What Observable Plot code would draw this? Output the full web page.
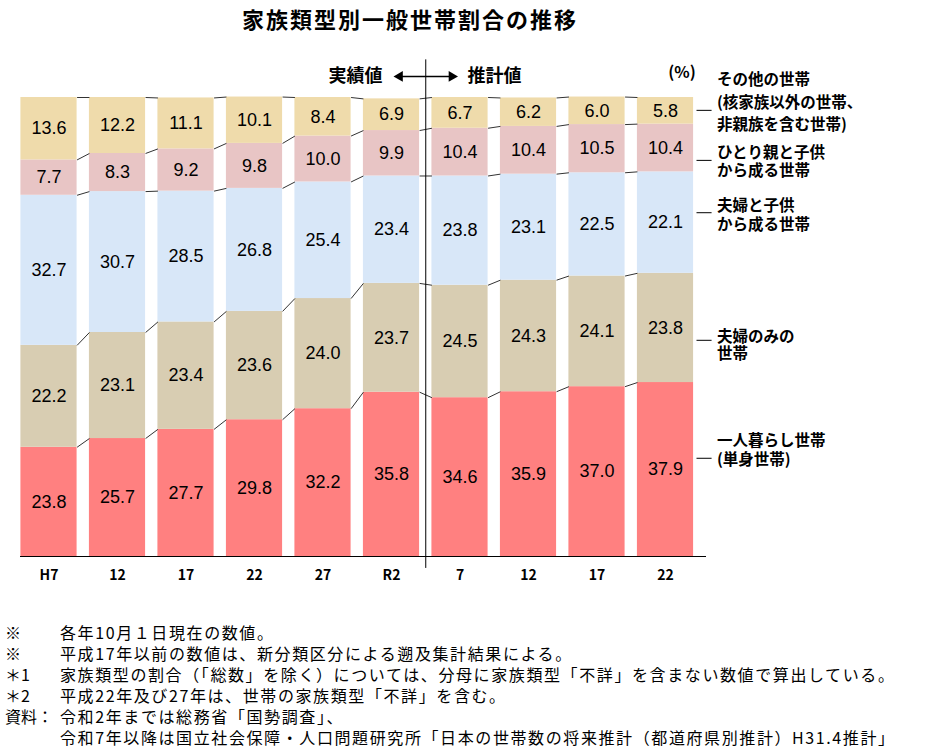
<!DOCTYPE html>
<html lang="ja">
<head>
<meta charset="utf-8">
<script src="https://cdn.jsdelivr.net/npm/d3@7"></script>
<script src="https://cdn.jsdelivr.net/npm/@observablehq/plot@0.6"></script>
<style>
  html, body { margin: 0; padding: 0; background: #fff; }
  body { width: 928px; height: 750px; position: relative; overflow: hidden;
         font-family: "Noto Sans CJK JP", "Noto Sans", sans-serif; color: #000; }
  #title { position: absolute; top: 4px; left: 0; width: 820px; text-align: center;
           font-size: 22px; font-weight: bold; letter-spacing: 2px; line-height: 28px; }
  #chart { position: absolute; top: 40px; left: 0; }
  #notes { position: absolute; top: 622px; left: 5px; font-size: 16px; line-height: 21px; letter-spacing: 1.6px; }
  #notes .row { display: flex; white-space: nowrap; }
  #notes .mk { width: 55px; flex: none; letter-spacing: 0; }
</style>
</head>
<body>
<div id="title">家族類型別一般世帯割合の推移</div>
<div id="chart"></div>
<div id="notes"></div>
<script>
// ---- data ----
const periods = ["H7", "12", "17", "22", "27", "R2", "7", "12", "17", "22"];
const single       = [23.8, 25.7, 27.7, 29.8, 32.2, 35.8, 34.6, 35.9, 37.0, 37.9];
const coupleOnly   = [22.2, 23.1, 23.4, 23.6, 24.0, 23.7, 24.5, 24.3, 24.1, 23.8];
const coupleKids   = [32.7, 30.7, 28.5, 26.8, 25.4, 23.4, 23.8, 23.1, 22.5, 22.1];
const singleParent = [7.7, 8.3, 9.2, 9.8, 10.0, 9.9, 10.4, 10.4, 10.5, 10.4];
const other        = [13.6, 12.2, 11.1, 10.1, 8.4, 6.9, 6.7, 6.2, 6.0, 5.8];
const seriesNames = ["一人暮らし世帯", "夫婦のみの世帯", "夫婦と子供から成る世帯", "ひとり親と子供から成る世帯", "その他の世帯"];
const seriesLabels = [
  "一人暮らし世帯\n(単身世帯)",
  "夫婦のみの\n世帯",
  "夫婦と子供\nから成る世帯",
  "ひとり親と子供\nから成る世帯",
  "その他の世帯\n(核家族以外の世帯、\n非親族を含む世帯)"
];
const seriesColors = ["#ff8080", "#d8cdb2", "#d8e7f8", "#e8c5c5", "#efdbab"];
const actualLabel = "実績値";
const forecastLabel = "推計値";
const unitLabel = "(%)";
const notes = [
  ["※", "各年10月１日現在の数値。"],
  ["※", "平成17年以前の数値は、新分類区分による遡及集計結果による。"],
  ["＊1", "家族類型の割合（「総数」を除く）については、分母に家族類型「不詳」を含まない数値で算出している。"],
  ["＊2", "平成22年及び27年は、世帯の家族類型「不詳」を含む。"],
  ["資料：", "令和2年までは総務省「国勢調査」、"],
  ["", "令和7年以降は国立社会保障・人口問題研究所「日本の世帯数の将来推計（都道府県別推計）H31.4推計」"]
];

// ---- layout constants ----
const half = 0.41;                 // half bar width in index units
const splitAt = 5.5;               // boundary between actual and projection
const labelYs = [23.3, 46.0, 74.5, 86.1, 99.3];   // right-hand label centres (y units)
const labelLH = [1.18, 1.1, 1.18, 1.18, 1.45];
const leaderYs = [21.4, 47.1, 74.9, 86.3, 97.2];  // leader dashes (y units)

// ---- build tables ----
const seriesValues = [single, coupleOnly, coupleKids, singleParent, other];
const rows = [];
const cum = seriesValues.map(() => []);
periods.forEach((p, i) => {
  let base = 0;
  seriesValues.forEach((vals, s) => {
    const v = vals[i];
    rows.push({i, s, series: seriesNames[s], value: v, y1: base, y2: base + v});
    base += v;
    cum[s][i] = base;
  });
});
const connectors = [];
cum.forEach((levels, s) => {
  for (let i = 0; i < periods.length - 1; i++) {
    connectors.push({x1: i + half, x2: i + 1 - half, y1: levels[i], y2: levels[i + 1]});
  }
});
const legend = seriesLabels.map((t, s) => ({text: t, y: labelYs[s], ly: leaderYs[s], lh: labelLH[s]}));

const cjk = "Noto Sans CJK JP, sans-serif";
const num = "Liberation Sans, Arial, sans-serif";
const last = periods.length - 1;

const chart = Plot.plot({
  width: 928,
  height: 570,
  marginTop: 57,
  marginBottom: 54,
  marginLeft: 20,
  marginRight: 222,
  x: {type: "linear", domain: [0, last], range: [48.5, 665], axis: null},
  y: {domain: [0, 100], axis: null},
  color: {domain: seriesNames, range: seriesColors},
  style: {fontFamily: cjk, background: "white", overflow: "visible"},
  marks: [
    Plot.rectY(rows, {x1: d => d.i - half, x2: d => d.i + half, y1: "y1", y2: "y2", fill: "series"}),
    Plot.link(connectors, {x1: "x1", x2: "x2", y1: "y1", y2: "y2", stroke: "#333", strokeWidth: 1}),
    Plot.text(rows, {x: "i", y: d => (d.y1 + d.y2) / 2, text: d => d.value.toFixed(1),
      fontFamily: num, fontSize: 18, fill: "#000"}),
    Plot.ruleY([0], {stroke: "#000", strokeWidth: 1}),
    Plot.axisX(d3.range(periods.length), {tickFormat: i => periods[i], tickSize: 0, tickPadding: 14,
      fontSize: 14, fontWeight: "bold", fontFamily: cjk, label: null}),
    // divider between actual and projected
    Plot.ruleX([splitAt], {y1: 108.2, y2: -2.6, stroke: "#000", strokeWidth: 1}),
    // double arrow
    Plot.ruleY([104.6], {x1: splitAt - 0.38, x2: splitAt + 0.38, stroke: "#000", strokeWidth: 1.5}),
    Plot.dot([{x: splitAt - 0.38, r: -90}, {x: splitAt + 0.38, r: 90}],
      {x: "x", y: 104.6, symbol: "triangle", rotate: "r", r: 4, fill: "#000", stroke: "none"}),
    Plot.text([actualLabel], {x: splitAt - 0.63, y: 104.6, text: d => d, textAnchor: "end",
      fontSize: 18, fontWeight: "bold", fontFamily: cjk}),
    Plot.text([forecastLabel], {x: splitAt + 0.61, y: 104.6, text: d => d, textAnchor: "start",
      fontSize: 18, fontWeight: "bold", fontFamily: cjk}),
    Plot.text([unitLabel], {x: last + 0.04, y: 105.4, text: d => d, textAnchor: "start",
      fontSize: 16, fontWeight: "bold", fontFamily: cjk}),
    // right-hand labels
    Plot.ruleY(legend, {y: "ly", x1: last + 0.46, x2: last + 0.68, stroke: "#000", strokeWidth: 1}),
    ...legend.map(d => Plot.text([d], {x: last + 0.75, y: "y", text: "text", textAnchor: "start",
      lineAnchor: "middle", lineHeight: d.lh, fontSize: 15.5, fontWeight: "bold", fontFamily: cjk}))
  ]
});
document.getElementById("chart").appendChild(chart);

const nb = document.getElementById("notes");
notes.forEach(([m, t]) => {
  const r = document.createElement("div");
  r.className = "row";
  const a = document.createElement("span"); a.className = "mk"; a.textContent = m;
  const b = document.createElement("span"); b.textContent = t;
  r.appendChild(a); r.appendChild(b);
  nb.appendChild(r);
});
</script>
</body>
</html>
